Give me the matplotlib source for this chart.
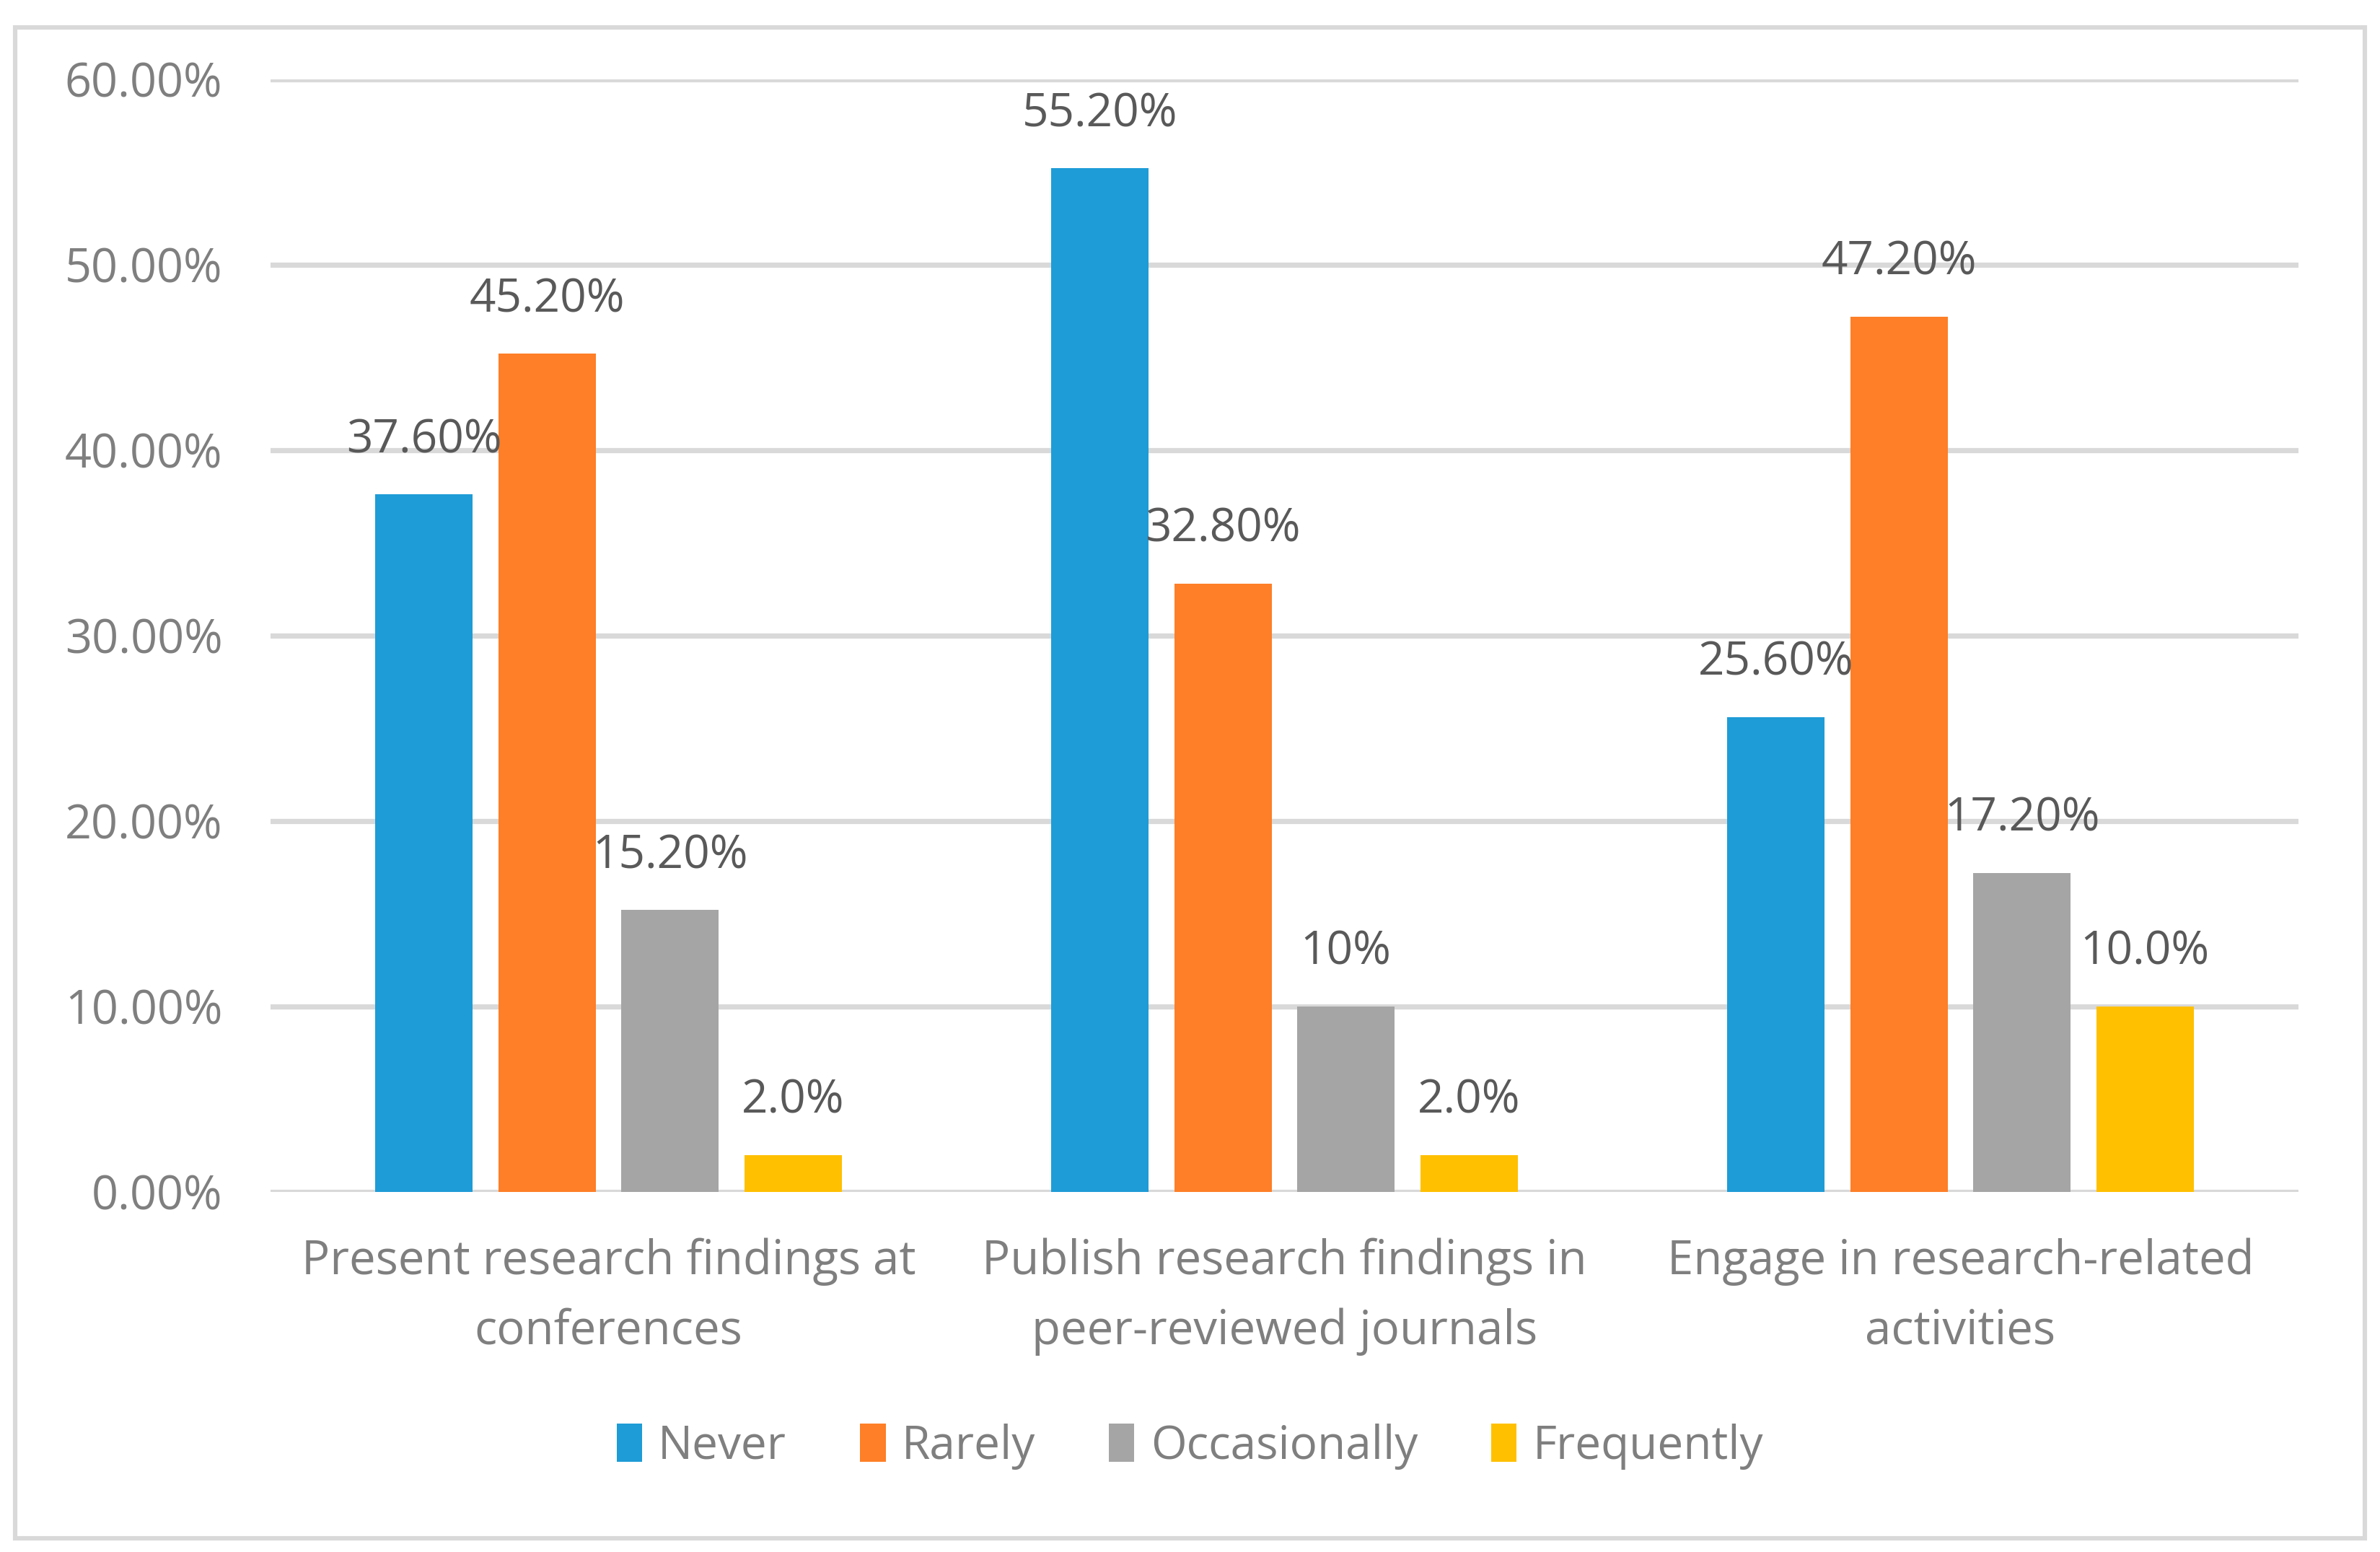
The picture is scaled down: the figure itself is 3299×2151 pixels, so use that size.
import matplotlib
matplotlib.use("Agg")
import matplotlib.pyplot as plt
import numpy as np
from matplotlib.patches import Rectangle

plt.rcParams["font.family"] = ["Open Sans", "DejaVu Sans"]

# --- данные ---
categories = ["Present research findings at\nconferences",
              "Publish research findings in\npeer-reviewed journals",
              "Engage in research-related\nactivities"]
series = ["Never", "Rarely", "Occasionally", "Frequently"]
values = {
    "Never":        [37.6, 55.2, 25.6],
    "Rarely":       [45.2, 32.8, 47.2],
    "Occasionally": [15.2, 10.0, 17.2],
    "Frequently":   [2.0, 2.0, 10.0],
}
labels = {
    "Never":        ["37.60%", "55.20%", "25.60%"],
    "Rarely":       ["45.20%", "32.80%", "47.20%"],
    "Occasionally": ["15.20%", "10%", "17.20%"],
    "Frequently":   ["2.0%", "2.0%", "10.0%"],
}
yticks = [0, 10, 20, 30, 40, 50, 60]
COLORS = ["#1E9CD7", "#FE7F27", "#A5A5A5", "#FFC000"]

W, H, DPI = 3299, 2151, 200
fig = plt.figure(figsize=(W / DPI, H / DPI), dpi=DPI)
ax = fig.add_axes([0.1137, 0.232, 0.852, 0.717])

x = np.arange(len(categories))
bw, step = 0.144, 0.182
for i, s in enumerate(series):
    pos = x + (i - 1.5) * step
    ax.bar(pos, values[s], width=bw, color=COLORS[i], label=s, zorder=3)
    for xp, v, t in zip(pos, values[s], labels[s]):
        ax.annotate(t, (xp, v), xytext=(0, 15.5), textcoords="offset points",
                    ha="center", va="bottom", fontsize=23, color="#595959", zorder=4)

ax.set_xlim(-0.5, 2.5)
ax.set_ylim(0, 60)
ax.set_yticks(yticks)
ax.set_yticklabels([f"{t:.2f}%" for t in yticks])
ax.set_xticks(x)
ax.set_xticklabels(categories, linespacing=1.6)
ax.tick_params(axis="y", length=0, pad=24, labelsize=23.3, labelcolor="#7F7F7F")
ax.tick_params(axis="x", length=0, pad=23, labelsize=23.5, labelcolor="#7F7F7F")
ax.grid(axis="y", color="#D9D9D9", lw=2.6, zorder=0)
ax.set_axisbelow(True)
for sp in ax.spines.values():
    sp.set_visible(False)

fig.legend(loc="center", bbox_to_anchor=(0.5, 0.068), ncol=4, frameon=False,
           fontsize=23, labelcolor="#7F7F7F", handlelength=0.55, handleheight=0.9,
           handletextpad=0.35, columnspacing=1.6)

fig.patches.append(Rectangle((21 / W, 1 - 2132 / H), (3278 - 21) / W, (2132 - 38) / H,
                             transform=fig.transFigure, fill=False,
                             edgecolor="#D9D9D9", lw=2.2))

fig.savefig("out.png", dpi=DPI, facecolor="white")
